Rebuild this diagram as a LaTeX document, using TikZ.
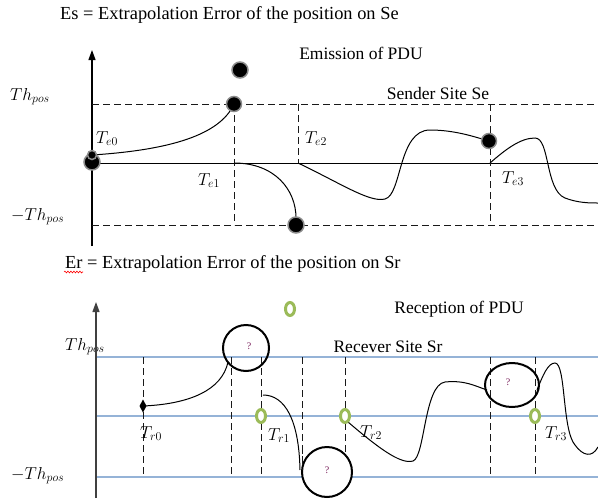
\documentclass[tikz,border=0pt]{standalone}
\usepackage{fontspec}
\setmainfont{Liberation Serif}
\usetikzlibrary{arrows.meta,decorations.pathmorphing}
\definecolor{bluel}{RGB}{149,179,215}
\definecolor{ringg}{RGB}{155,187,89}
\definecolor{qcol}{RGB}{120,30,90}
\begin{document}
\begin{tikzpicture}[x=1pt,y=-1pt,
  every node/.style={font=\fontsize{17.5}{21}\selectfont, inner sep=0pt},
  ttl/.style={font=\fontsize{18.4}{22}\selectfont},
  dsh/.style={dash pattern=on 7pt off 4pt, line width=0.9pt, draw=black!90},
  bl/.style={draw=bluel, line width=1.3pt},
  crv/.style={line width=1pt},
  ring/.style={draw=ringg, line width=3pt},
  qcirc/.style={line width=2pt},
  qm/.style={font=\fontsize{10}{12}\selectfont, text=qcol},
  ball/.style={circle, fill=black, draw=black!45, line width=1.5pt, minimum size=#1, inner sep=0pt},
  axarrow/.style={line width=1.2pt, -{Triangle[length=10pt,width=7pt]}}
  ]
\useasboundingbox (0,0) rectangle (598,504);

% ---------------- top panel ----------------
\node[ttl, anchor=base west] (t1) at (60,19) {Es = Extrapolation Error of the position on Se};
\node[anchor=base] (em) at (361,59) {Emission of PDU};
\node[anchor=base] (ss) at (438,99) {Sender Site Se};
\node[anchor=base west] (th1) at (10,100) {$Th_{pos}$};
\node[anchor=base west] (mth1) at (11,220) {$-Th_{pos}$};

\coordinate (a1b) at (92,246);
\coordinate (a1t) at (92,50);
\draw[axarrow] (a1b) -- (a1t);

\coordinate (m0) at (92,163);  \coordinate (m1) at (598,163);
\coordinate (u0) at (92,104);  \coordinate (u1) at (598,104);
\coordinate (d0) at (92,225);  \coordinate (d1) at (598,225);
\draw[line width=1pt] (m0) -- (m1);
\draw[dsh] (u0) -- (u1);
\draw[dsh] (d0) -- (d1);

\coordinate (v1t) at (234,104); \coordinate (v1b) at (234,225);
\coordinate (v2t) at (298,104); \coordinate (v2b) at (298,163);
\coordinate (v3t) at (490,104); \coordinate (v3b) at (490,225);
\draw[dsh] (v1t) -- (v1b);
\draw[dsh] (v2t) -- (v2b);
\draw[dsh] (v3t) -- (v3b);

% curves
\coordinate (c1s) at (92,155);
\coordinate (c1e) at (234,104);
\draw[crv] (c1s) .. controls (170,150) and (220,135) .. (c1e);
\coordinate (c2s) at (234,163);
\coordinate (c2e) at (296,218);
\draw[crv] (c2s) .. controls (275,163) and (296,190) .. (c2e);
\coordinate (c3s) at (298,163);
\coordinate (c3e) at (489,141);
\draw[crv] (c3s) .. controls (340,183) and (370,203) .. (385,199)
  .. controls (402,195) and (398,130) .. (430,130)
  .. controls (455,130) and (475,137) .. (c3e);
\coordinate (c4s) at (490,163);
\coordinate (c4e) at (598,203);
\draw[crv] (c4s) .. controls (505,150) and (520,138) .. (535,138)
  .. controls (550,138) and (545,190) .. (565,198)
  .. controls (578,203) and (590,203) .. (c4e);

% balls
\node[ball=16pt] (b0) at (240,70) {};
\node[ball=15pt] (b1) at (234,104) {};
\node[ball=16pt] (b2) at (92,162) {};
\node[ball=9pt] (b2a) at (92,155) {};
\node[ball=16pt] (b3) at (296,225) {};
\node[ball=15pt] (b4) at (489,141) {};

\node[anchor=base west] (te0) at (96,143) {$T_{e0}$};
\node[anchor=base west] (te1) at (198,185) {$T_{e1}$};
\node[anchor=base west] (te2) at (305,143) {$T_{e2}$};
\node[anchor=base west] (te3) at (502,183) {$T_{e3}$};

% ---------------- bottom panel ----------------
\node[ttl, anchor=base west] (t2) at (65,268) {Er = Extrapolation Error of the position on Sr};
\coordinate (w0) at (64,272); \coordinate (w1) at (83,272);
\draw[red, line width=0.6pt, decorate, decoration={snake, amplitude=0.9pt, segment length=3pt}] (w0) -- (w1);
\node[anchor=base] (rc) at (459,313) {Reception of PDU};
\node[anchor=base] (rs) at (388,352) {Recever Site Sr};
\node[anchor=base west] (th2) at (65,350) {$Th_{pos}$};
\node[anchor=base west] (mth2) at (11,479) {$-Th_{pos}$};

\coordinate (a2b) at (96,498);
\coordinate (a2t) at (96,302);

\coordinate (bu0) at (96,357); \coordinate (bu1) at (598,357);
\coordinate (bm0) at (96,416); \coordinate (bm1) at (598,416);
\coordinate (bd0) at (96,477); \coordinate (bd1) at (598,477);
\draw[bl] (bu0) -- (bu1);
\draw[bl] (bm0) -- (bm1);
\draw[bl] (bd0) -- (bd1);
\draw[axarrow, draw=black!75] (a2b) -- (a2t);

\foreach \x/\e in {143/477, 231/477, 261/477, 302/470, 345/477, 490/477, 535/477}{
  \draw[dsh] (\x,357) coordinate (vt\x) -- (\x,\e) coordinate (vb\x);
}

% curves
\coordinate (r0) at (143,406);
\coordinate (r0e) at (228,362);
\draw[crv] (r0) .. controls (190,404) and (222,390) .. (r0e);
\coordinate (r1s) at (263,395);
\coordinate (r1e) at (300,470);
\draw[crv] (r1s) .. controls (285,395) and (299,420) .. (r1e);
\coordinate (r2s) at (348,422);
\coordinate (r2e) at (487,390);
\draw[crv] (r2s) .. controls (375,445) and (400,465) .. (413,461)
  .. controls (425,457) and (424,385) .. (445,382)
  .. controls (465,380) and (475,386) .. (r2e);
\coordinate (r3s) at (537,390);
\coordinate (r3e) at (598,447);
\draw[crv] (r3s) .. controls (543,375) and (548,363) .. (555,363)
  .. controls (566,363) and (562,430) .. (575,445)
  .. controls (583,456) and (592,458) .. (r3e);

% diamond
\coordinate (dm) at (143,406);
\fill (dm) ++(0,-6.5) -- ++(3.5,6.5) -- ++(-3.5,6.5) -- ++(-3.5,-6.5) -- cycle;

% question circles
\draw[qcirc] (246,348) circle[radius=23];
\node[qm] (q1) at (249,346) {?};
\draw[qcirc, fill=white] (327,472) circle[radius=25];
\draw[dsh] (302,447) -- (302,470);
\node[qm] (q2) at (327,470) {?};
\draw[qcirc] (512,385) ellipse[x radius=27, y radius=22];
\node[qm] (q3) at (508,382) {?};

% green rings
\draw[ring] (290,309) ellipse[x radius=4.5, y radius=6.5];
\draw[ring, fill=white] (261,416) ellipse[x radius=4.5, y radius=6.5];
\draw[ring, fill=white] (345,416) ellipse[x radius=4.5, y radius=6.5];
\draw[ring, fill=white] (535,416) ellipse[x radius=4.5, y radius=6.5];

\node[anchor=base west] (tr0) at (140,438) {$T_{r0}$};
\node[anchor=base west] (tr1) at (268,440) {$T_{r1}$};
\node[anchor=base west] (tr2) at (360,437) {$T_{r2}$};
\node[anchor=base west] (tr3) at (545,438) {$T_{r3}$};
\end{tikzpicture}
\end{document}
